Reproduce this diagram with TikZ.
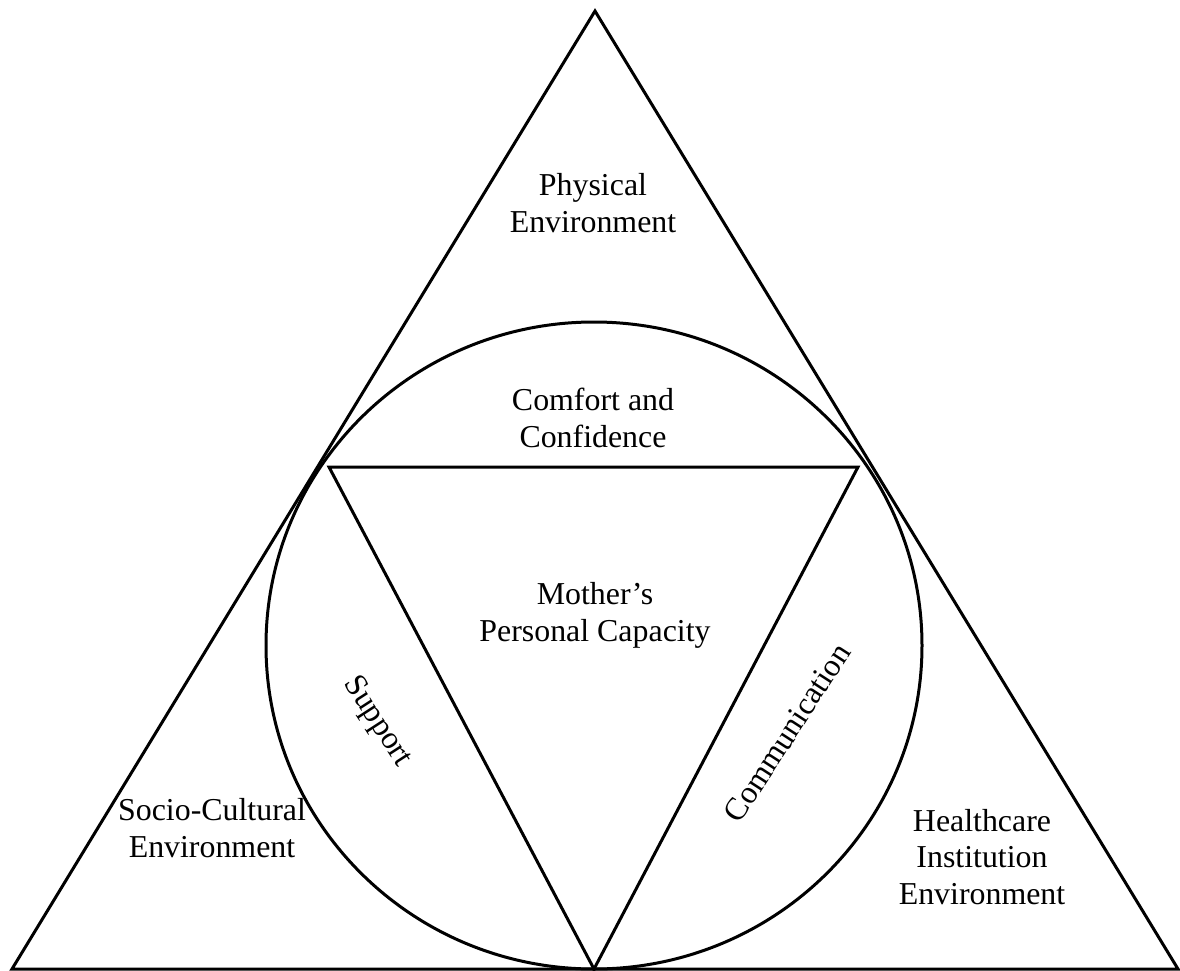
\documentclass[tikz,border=0pt]{standalone}
\usepackage{fontspec}
\setmainfont{Liberation Serif}
\begin{document}
\begin{tikzpicture}[x=1bp,y=-1bp,
  shape line/.style={line width=3bp, line join=miter},
  lbl/.style={align=center, inner sep=0pt, font=\fontsize{32}{37}\selectfont}]
\useasboundingbox (0,0) rectangle (1180,971);
% outer triangle
\coordinate (apex) at (595,11);
\coordinate (bl) at (12,969);
\coordinate (br) at (1178,969);
\draw[shape line] (apex) -- (bl) -- (br) -- cycle;
% circle
\coordinate (cc) at (594,645.5);
\draw[shape line] (cc) ellipse [x radius=328, y radius=323.5];
% inner triangle
\coordinate (itl) at (329,467);
\coordinate (itr) at (858,467);
\coordinate (ib) at (594,969);
\draw[shape line] (itl) -- (itr) -- (ib) -- cycle;
% labels
\node[lbl] (phys) at (593,203) {Physical\\Environment};
\node[lbl] (comf) at (593,418) {Comfort and\\Confidence};
\node[lbl] (moth) at (595,615) {Mother’s\\Personal Capacity};
\node[lbl] (socio) at (212,828) {Socio-Cultural\\Environment};
\node[lbl] (health) at (982,857) {Healthcare\\Institution\\Environment};
\node[lbl, rotate=-57] (supp) at (377,722) {Support};
\node[lbl, rotate=57] (comm) at (787,733) {Communication};
\end{tikzpicture}
\end{document}
